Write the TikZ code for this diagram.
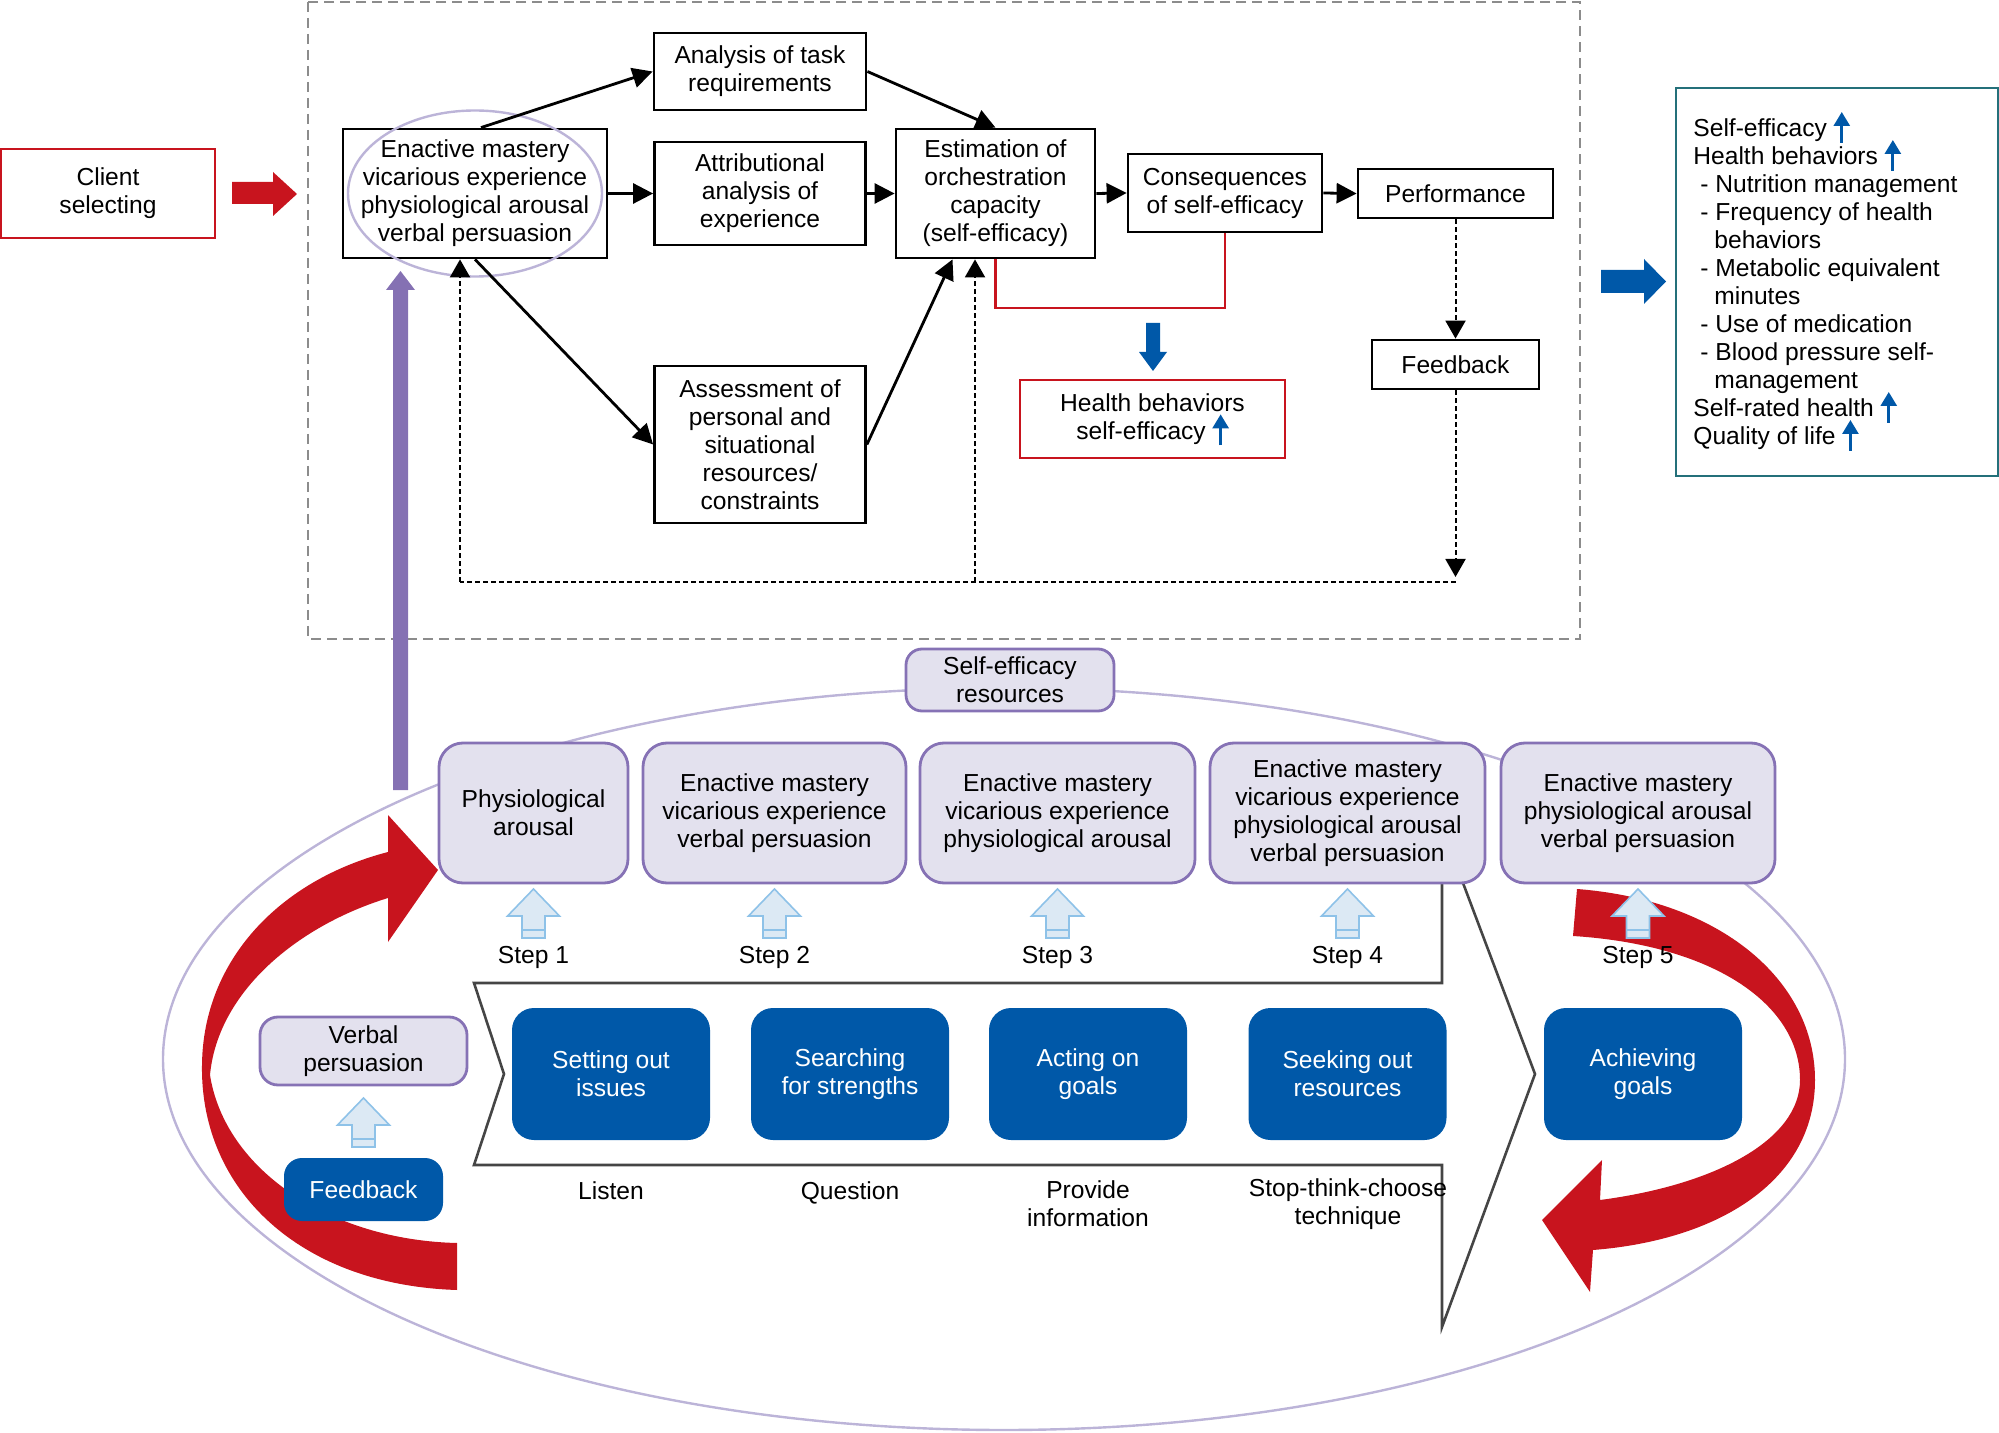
\documentclass[tikz,border=0pt]{standalone}
\usepackage{fontspec}
\setmainfont{Liberation Sans}
\usetikzlibrary{arrows.meta,calc}
\definecolor{cred}{HTML}{C8141E}
\definecolor{cblue}{HTML}{0058A8}
\definecolor{cteal}{HTML}{24707A}
\definecolor{lav}{HTML}{E3E1EE}
\definecolor{lavb}{HTML}{8672B5}
\definecolor{lavl}{HTML}{BCB4D8}
\definecolor{cpurp}{HTML}{8571B3}
\definecolor{lblue}{HTML}{DCE9F4}
\definecolor{lblueb}{HTML}{8EC2E8}
\definecolor{cgrey}{HTML}{8C8C8C}
\definecolor{cdark}{HTML}{454545}
\newcommand{\myup}{\smash{\tikz[baseline=0pt]\draw[cblue,line width=1.4pt,-{Triangle[length=7pt,width=8pt]}] (0pt,-3pt)--(0pt,12.5pt);}}
\newcommand{\stparrow}[2]{\filldraw[fill=lblue, draw=lblueb, line width=0.8pt] (#1,#2) -- ++(26,27) -- ++(-14.5,0) -- ++(0,22) -- ++(-23,0) -- ++(0,-22) -- ++(-14.5,0) -- cycle; \draw[lblueb, line width=0.8pt] (#1-11.5,#2+41) -- (#1+11.5,#2+41);}
\tikzset{
 txt/.style={font=\fontsize{12.3}{14}\selectfont, align=center, inner sep=0pt},
 blk/.style={txt, draw=black, line width=1.4pt, fill=white},
 redbox/.style={txt, draw=cred, line width=1.4pt, fill=white},
 stepbox/.style={txt, draw=lavb, fill=lav, line width=1.4pt, rounded corners=12pt},
 bluebox/.style={txt, fill=cblue, text=white, rounded corners=11pt},
 arr/.style={line width=1.4pt, -{Triangle[length=10pt,width=10pt]}},
 darr/.style={line width=1pt, dash pattern=on 2.5pt off 1.5pt, -{Triangle[length=9pt,width=10pt]}},
 dline/.style={line width=1pt, dash pattern=on 2.5pt off 1.5pt},
 rtxt/.style={txt, anchor=base west},
}
\begin{document}
\begin{tikzpicture}[x=0.5pt,y=-0.5pt]
\useasboundingbox (0,0) rectangle (1999,1433);
% dashed frame
\draw[cgrey, line width=1pt, dash pattern=on 5pt off 3pt] (308,2) rectangle (1580,639);

% top nodes
\node[redbox, minimum width=107pt, minimum height=44.5pt] (client) at (108,193.5) {Client\\selecting};
\node[blk, minimum width=132pt, minimum height=64.5pt] (A) at (475,193.5) {Enactive mastery\\vicarious experience\\physiological arousal\\verbal persuasion};
\node[blk, minimum width=106pt, minimum height=38.5pt] (B) at (760,71.5) {Analysis of task\\requirements};
\node[blk, minimum width=105.5pt, minimum height=51.5pt] (C) at (760,193.5) {Attributional\\analysis of\\experience};
\node[blk, minimum width=105.5pt, minimum height=78.5pt] (D) at (760,444.5) {Assessment of\\personal and\\situational\\resources/\\constraints};
\node[blk, minimum width=99.5pt, minimum height=64.5pt] (E) at (995.5,193.5) {Estimation of\\orchestration\\capacity\\(self-efficacy)};
\node[blk, minimum width=97pt, minimum height=39pt] (F) at (1225,193) {Consequences\\of self-efficacy};
\node[blk, minimum width=97.5pt, minimum height=24.5pt] (G) at (1455.5,193.5) {Performance};
\node[blk, minimum width=83.5pt, minimum height=24.5pt] (H) at (1455.5,364.5) {Feedback};
\node[redbox, minimum width=132.5pt, minimum height=39pt] (HB) at (1152.5,419) {Health behaviors\\self-efficacy \myup};

\draw[lavl, line width=1.2pt] (A.center) ellipse [x radius=127, y radius=83];

% arrows
\draw[arr] ($(A.north)+(6,0)$) -- (B.west);
\draw[arr] (B.east) -- (E.north);
\draw[arr] (A.east) -- (C.west);
\draw[arr] (C.east) -- (E.west);
\draw[arr] (A.south) -- (D.west);
\draw[arr] (D.east) -- ($(E.south)+(-43,0)$);
\draw[arr] (E.east) -- (F.west);
\draw[arr] (F.east) -- (G.west);
\draw[darr] (G.south) -- (H.north);
\coordinate (fbR) at (1455.5,582);
\coordinate (fbL) at (460,582);
\coordinate (fbM) at (975,582);
\draw[darr] (H.south) -- ($(fbR)+(0,-5)$);
\draw[dline] (fbR) -- (fbL);
\draw[darr] (fbL) -- (fbL |- A.south);
\draw[darr] (fbM) -- (fbM |- E.south);
\coordinate (rl) at (0,308);
\draw[cred, line width=1.3pt] (F.south) -- (F.south |- rl) -| (E.south);

% block arrows
\fill[cred] (232,182) -- (273,182) -- (273,172) -- (297,194) -- (273,216) -- (273,204) -- (232,204) -- cycle;
\fill[cblue] (1601,270) -- (1644,270) -- (1644,259) -- (1666,281.5) -- (1644,304) -- (1644,293) -- (1601,293) -- cycle;
\fill[cblue] (1146,323) -- (1160,323) -- (1160,352) -- (1167,352) -- (1153,371) -- (1139,352) -- (1146,352) -- cycle;

% right outcome box
\node[draw=cteal, line width=1.4pt, minimum width=161pt, minimum height=194pt, inner sep=0pt] (R) at (1837,282) {};
\node[rtxt] (r1) at (1693,137) {Self-efficacy \myup};
\node[rtxt] (r2) at (1693,165) {Health behaviors \myup};
\node[rtxt] (r3) at (1700,193) {- Nutrition management};
\node[rtxt] (r4) at (1700,221) {- Frequency of health};
\node[rtxt] (r5) at (1714,249) {behaviors};
\node[rtxt] (r6) at (1700,277) {- Metabolic equivalent};
\node[rtxt] (r7) at (1714,305) {minutes};
\node[rtxt] (r8) at (1700,333) {- Use of medication};
\node[rtxt] (r9) at (1700,361) {- Blood pressure self-};
\node[rtxt] (r10) at (1714,389) {management};
\node[rtxt] (r11) at (1693,417) {Self-rated health \myup};
\node[rtxt] (r12) at (1693,445) {Quality of life \myup};

% bottom part
\draw[lavl, line width=1.2pt] (1004,1059) ellipse [x radius=841, y radius=371];
\fill[cpurp] (393,790) -- (408,790) -- (408,290) -- (415,290) -- (400.5,271) -- (386,290) -- (393,290) -- cycle;

% chevron
\draw[cdark, line width=1.3pt] (1442,883) -- (1442,983) -- (474,983) -- (504,1074) -- (474,1165) -- (1442,1165) -- (1442,1327) -- (1535,1074) -- (1463,883);

% red swooshes
\fill[cred] (457,1290) .. controls (300,1285) and (200,1190) .. (202,1065) .. controls (203,960) and (280,880) .. (388,852) -- (388,815) -- (438,870) -- (388,942) -- (388,898) .. controls (300,925) and (218,990) .. (210,1075) .. controls (225,1170) and (330,1240) .. (457,1243) -- cycle;
\fill[cred] (1577,889) .. controls (1720,900) and (1815,980) .. (1815,1080) .. controls (1815,1180) and (1720,1240) .. (1593,1250) -- (1590,1292) -- (1542,1220) -- (1602,1160) -- (1600,1200) .. controls (1715,1185) and (1800,1140) .. (1800,1080) .. controls (1800,1005) and (1715,945) .. (1573,936) -- cycle;

\node[stepbox, minimum width=104pt, minimum height=31pt, rounded corners=8pt] (SR) at (1010,680) {Self-efficacy\\resources};
\node[stepbox, minimum width=94.5pt, minimum height=70pt] (S1) at (533.5,813) {Physiological\\arousal};
\node[stepbox, minimum width=131.5pt, minimum height=70pt] (S2) at (774.5,813) {Enactive mastery\\vicarious experience\\verbal persuasion};
\node[stepbox, minimum width=137.5pt, minimum height=70pt] (S3) at (1057.5,813) {Enactive mastery\\vicarious experience\\physiological arousal};
\node[stepbox, minimum width=137.5pt, minimum height=70pt] (S4) at (1347.5,813) {Enactive mastery\\vicarious experience\\physiological arousal\\verbal persuasion};
\node[stepbox, minimum width=137pt, minimum height=70pt] (S5) at (1638,813) {Enactive mastery\\physiological arousal\\verbal persuasion};

\stparrow{533.5}{889}
\stparrow{774.5}{889}
\stparrow{1057.5}{889}
\stparrow{1347.5}{889}
\stparrow{1638}{889}
\node[txt] (st1) at (533.5,957) {Step 1};
\node[txt] (st2) at (774.5,957) {Step 2};
\node[txt] (st3) at (1057.5,957) {Step 3};
\node[txt] (st4) at (1347.5,957) {Step 4};
\node[txt] (st5) at (1638,957) {Step 5};

\node[bluebox, minimum width=99pt, minimum height=66pt] (P1) at (611,1074) {Setting out\\issues};
\node[bluebox, minimum width=99pt, minimum height=66pt] (P2) at (850,1074) {Searching\\for strengths};
\node[bluebox, minimum width=99pt, minimum height=66pt] (P3) at (1088,1074) {Acting on\\goals};
\node[bluebox, minimum width=99pt, minimum height=66pt] (P4) at (1347.5,1074) {Seeking out\\resources};
\node[bluebox, minimum width=99pt, minimum height=66pt] (P5) at (1643,1074) {Achieving\\goals};

\node[txt, anchor=base] (L1) at (611,1199) {Listen};
\node[txt, anchor=base] (L2) at (850,1199) {Question};
\node[txt] (L3) at (1088,1204) {Provide\\information};
\node[txt] (L4) at (1348,1204) {Stop-think-choose\\technique};

\node[stepbox, minimum width=103.5pt, minimum height=34pt, rounded corners=9pt] (VP) at (363.5,1051) {Verbal\\persuasion};
\stparrow{363.5}{1098}
\node[bluebox, minimum width=79.5pt, minimum height=31.5pt, rounded corners=9pt] (FB2) at (363.5,1189.5) {Feedback};
\end{tikzpicture}
\end{document}
